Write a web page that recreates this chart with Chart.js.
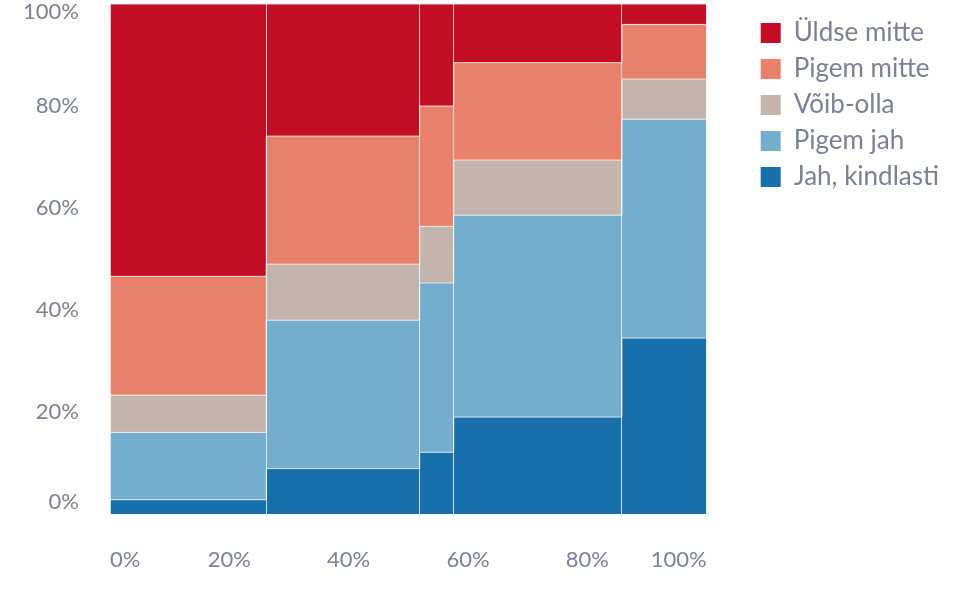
<!DOCTYPE html>
<html>
<head>
<meta charset="utf-8">
<script src="https://cdn.jsdelivr.net/npm/chart.js@4/dist/chart.umd.min.js"></script>
<style>
  html, body { margin: 0; padding: 0; background: #fff; }
  #wrap { width: 962px; height: 589px; }
</style>
</head>
<body>
<div id="wrap"><canvas id="chart"></canvas></div>
<script>
"use strict";

// column widths (share of total, %) and each answer's share inside a column (%)
var columnWidths = [26.2, 25.7, 5.7, 28.2, 14.2];
var seriesNames = ['Jah, kindlasti', 'Pigem jah', 'Võib-olla', 'Pigem mitte', 'Üldse mitte'];
var jahKindlasti = [2.8, 8.9, 12.1, 19.0, 34.5];
var pigemJah = [13.2, 29.1, 33.2, 39.6, 42.9];
var voibOlla = [7.3, 11.0, 11.1, 10.8, 7.9];
var pigemMitte = [23.3, 25.1, 23.6, 19.1, 10.7];
var uldseMitte = [53.4, 25.9, 20.0, 11.5, 4.0];
var axisTicks = [0, 20, 40, 60, 80, 100];

var seriesColors = ['#1770aa', '#75aecc', '#c3b5ac', '#e8806c', '#c30d24'];
var edgeColor = 'rgba(255,255,255,0.75)';
var textColor = '#7b8094';

// x position where every column starts
var columnEdges = [0];
columnWidths.forEach(function (w, i) {
    columnEdges.push(Math.round((columnEdges[i] + w) * 10) / 10);
});

function stepPoints(values) {
    var pts = values.map(function (v, i) {
        return { x: columnEdges[i], y: v };
    });
    pts.push({ x: columnEdges[columnEdges.length - 1], y: values[values.length - 1] });
    return pts;
}

var allValues = [jahKindlasti, pigemJah, voibOlla, pigemMitte, uldseMitte];
var datasets = allValues.map(function (values, i) {
    return {
        label: seriesNames[i],
        data: stepPoints(values),
        stepped: 'before',
        fill: i === 0 ? 'origin' : '-1',
        backgroundColor: seriesColors[i],
        borderColor: edgeColor,
        borderWidth: 1,
        pointRadius: 0,
        pointHitRadius: 0
    };
});

function tickList(scale) {
    scale.ticks = axisTicks.map(function (v) { return { value: v }; });
}

// first and last tick labels sit inside the plot, like the original
var flushLabels = {
    id: 'flushLabels',
    beforeDraw: function (chart) {
        var xItems = chart.scales.x.getLabelItems();
        xItems[0].options.textAlign = 'left';
        xItems[xItems.length - 1].options.textAlign = 'right';
        var yItems = chart.scales.y.getLabelItems();
        yItems[0].options.translation[1] -= 12;
        yItems[yItems.length - 1].options.translation[1] += 8;
    }
};

Chart.defaults.font.family = 'Lato';
Chart.defaults.font.size = 22;
Chart.defaults.color = textColor;

new Chart(document.getElementById('chart'), {
    type: 'line',
    data: { datasets: datasets },
    plugins: [flushLabels],
    options: {
        responsive: true,
        maintainAspectRatio: false,
        animation: false,
        events: [],
        layout: { padding: { top: 4, left: 23, right: 13, bottom: 0 } },
        scales: {
            x: {
                type: 'linear',
                min: 0,
                max: 100,
                afterBuildTicks: tickList,
                afterFit: function (s) {
                    s.paddingLeft = 0;
                    s.paddingRight = 0;
                    s.height = 75;
                },
                ticks: {
                    padding: 33,
                    font: { size: 22 },
                    callback: function (v) { return v + '%'; }
                },
                grid: { display: false, drawTicks: false },
                border: { display: true, color: edgeColor, z: 1 }
            },
            xDiv: {
                type: 'linear',
                position: 'bottom',
                min: 0,
                max: 100,
                afterBuildTicks: function (s) {
                    s.ticks = columnEdges.map(function (v) { return { value: v }; });
                },
                afterFit: function (s) {
                    s.paddingLeft = 0;
                    s.paddingRight = 0;
                    s.height = 0;
                },
                ticks: { display: false },
                grid: { color: edgeColor, lineWidth: 1, drawTicks: false, z: 1 },
                border: { display: false }
            },
            y: {
                stacked: true,
                min: 0,
                max: 100,
                afterBuildTicks: tickList,
                afterFit: function (s) {
                    s.paddingTop = 0;
                    s.paddingBottom = 0;
                    s.width = 87;
                },
                ticks: {
                    padding: 31,
                    font: { size: 22 },
                    callback: function (v) { return v + '%'; }
                },
                grid: { display: false, drawTicks: false },
                border: { display: false }
            },
            // empty axis that only keeps space between plot and legend
            gap: {
                type: 'linear',
                position: 'right',
                afterFit: function (s) {
                    s.paddingTop = 0;
                    s.paddingBottom = 0;
                    s.width = 44;
                },
                ticks: { display: false },
                grid: { display: false, drawTicks: false },
                border: { display: false }
            }
        },
        plugins: {
            tooltip: { enabled: false },
            legend: {
                position: 'right',
                align: 'start',
                reverse: true,
                maxWidth: 300,
                title: { display: true, text: ' ', padding: 0, font: { size: 6, lineHeight: 1 } },
                labels: {
                    boxWidth: 20,
                    boxHeight: 20,
                    padding: 10,
                    color: textColor,
                    font: { size: 26 },
                    generateLabels: function (chart) {
                        var items = Chart.defaults.plugins.legend.labels.generateLabels(chart);
                        items.forEach(function (it) {
                            it.lineWidth = 0;
                            it.strokeStyle = it.fillStyle;
                        });
                        return items;
                    }
                }
            }
        }
    }
});
</script>
</body>
</html>
